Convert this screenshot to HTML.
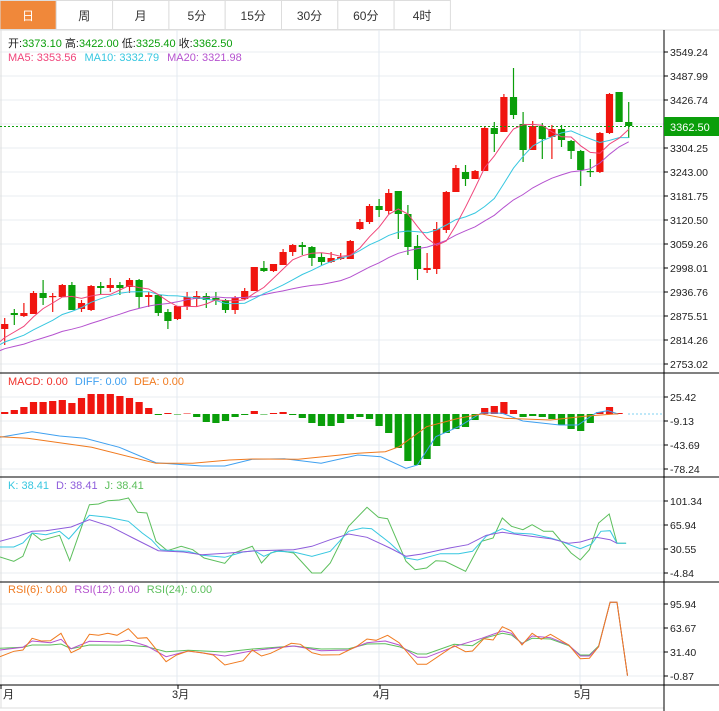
<!DOCTYPE html>
<html><head><meta charset="utf-8"><style>
body{margin:0;background:#fff;font-family:"Liberation Sans","Noto Sans CJK SC",sans-serif;}
#w{position:relative;width:719px;height:711px;overflow:hidden;}
</style></head><body><div id="w"><svg id="s" width="719" height="711" xmlns="http://www.w3.org/2000/svg" font-family="Liberation Sans, Noto Sans CJK SC, sans-serif"></svg></div>
<script>
const S=document.getElementById('s');let h='';
// tabs
const tabs=['日','周','月','5分','15分','30分','60分','4时'];
h+='<rect x="0" y="0" width="719" height="30" fill="#fff"/>';
tabs.forEach((t,i)=>{const x=i*56.3;h+=`<rect x="${x}" y="0.5" width="56.3" height="29" fill="${i==0?'#F0883A':'#fff'}" stroke="#ddd"/>`;h+=`<text x="${x+28}" y="20" font-size="12" text-anchor="middle" fill="${i==0?'#fff':'#333'}">${t}</text>`;});
h+='<line x1="0" y1="30" x2="719" y2="30" stroke="#ddd"/>';
// grids
const gy=[52,76,100,124,148,172,196,220,244,268,292,316,340,364,397,421,445,469,501,525,549,573,604,628,652,676];
gy.forEach(y=>h+=`<line x1="0" y1="${y}" x2="664" y2="${y}" stroke="#e8edf2"/>`);
[177,379,580].forEach(x=>h+=`<line x1="${x}" y1="30" x2="${x}" y2="685" stroke="#e3eaf0"/>`);
h+='<line x1="1" y1="30" x2="1" y2="708" stroke="#ddd"/><line x1="0" y1="708" x2="664" y2="708" stroke="#ddd"/>';
[373,477,582,685].forEach(y=>h+=`<line x1="0" y1="${y}" x2="719" y2="${y}" stroke="#000"/>`);
h+='<line x1="664" y1="30" x2="664" y2="711" stroke="#000"/>';
const lab=[[52,'3549.24'],[76,'3487.99'],[100,'3426.74'],[148,'3304.25'],[172,'3243.00'],[196,'3181.75'],[220,'3120.50'],[244,'3059.26'],[268,'2998.01'],[292,'2936.76'],[316,'2875.51'],[340,'2814.26'],[364,'2753.02'],[397,'25.42'],[421,'-9.13'],[445,'-43.69'],[469,'-78.24'],[501,'101.34'],[525,'65.94'],[549,'30.55'],[573,'-4.84'],[604,'95.94'],[628,'63.67'],[652,'31.40'],[676,'-0.87']];
lab.forEach(([y,t])=>{h+=`<line x1="664" y1="${y}" x2="668" y2="${y}" stroke="#000"/><text x="670" y="${y+4}" font-size="10.5" fill="#222">${t}</text>`;});
// candles [top body? we use open,close,high,low in y]
const C=[[329,324,318,345],[313,315,309,325],[316,313,303,317],[314,293,291,314],[293,298,280,305],[297,296,293,312],[297,285,284,297],[285,310,282,310],[309,303,300,312],[310,286,285,311],[286,288,282,294],[288,285,278,292],[285,288,282,295],[287,280,278,293],[280,297,279,308],[297,295,292,307],[295,313,295,316],[312,321,309,329],[319,306,306,320],[306,297,292,310],[299,296,291,307],[296,300,293,308],[298,300,292,305],[300,310,299,313],[310,298,296,314],[299,291,288,300],[291,267,267,291],[268,271,261,272],[271,264,264,272],[265,252,249,265],[252,245,244,256],[245,247,242,255],[247,258,246,266],[257,262,253,265],[262,258,252,263],[259,257,253,260],[259,241,240,259],[229,222,219,230],[222,206,204,224],[206,210,199,217],[211,193,189,214],[191,214,191,239],[214,247,205,255],[246,269,235,280],[270,268,253,273],[269,229,222,274],[230,192,191,233],[192,168,165,192],[172,179,165,186],[179,171,170,179],[171,128,127,171],[128,134,122,152],[132,97,94,132],[97,115,68,119],[124,150,112,162],[150,126,121,150],[126,139,123,159],[137,129,125,159],[129,140,125,147],[141,151,140,159],[151,170,150,186],[171,172,159,177],[172,133,132,173],[133,94,93,134],[92,122,92,122],[122,126,102,138]];
const X=i=>4.7+i*9.6;
C.forEach((c,i)=>{const[o,cl,hi,lo]=c;const up=cl<=o;const col=up?'#F0150F':'#0A9E0A';const x=X(i);h+=`<line x1="${x}" y1="${hi}" x2="${x}" y2="${lo}" stroke="${col}" stroke-width="1.2"/>`;const t=Math.min(o,cl),b=Math.max(o,cl);h+=`<rect x="${x-3.6}" y="${t}" width="7.2" height="${Math.max(b-t,1.2)}" fill="${col}"/>`;});
// MAs
const cls=C.map(c=>c[1]);const pre=[];for(let k=0;k<20;k++)pre.push(362-k*1.2);const all=pre.concat(cls);
function ma(n,col){let p=[];for(let i=0;i<C.length;i++){let s=0;for(let k=0;k<n;k++)s+=all[20+i-k];p.push(X(i).toFixed(1)+','+(s/n).toFixed(1));}h+=`<polyline points="0,${i0(n)} ${p.join(' ')}" fill="none" stroke="${col}" stroke-width="1"/>`;}
function i0(n){let s=0;for(let k=0;k<n;k++)s+=all[19-k];return (s/n).toFixed(1);}
ma(20,'#B552CF');ma(10,'#37C7E0');ma(5,'#F0447A');
h+='<line x1="0" y1="126.5" x2="664" y2="126.5" stroke="#0A9E0A" stroke-dasharray="2,2"/>';
h+='<rect x="664" y="117" width="55" height="19" fill="#0A9E0A"/><text x="670" y="131" font-size="11" fill="#fff">3362.50</text>';
h+='<text x="8" y="47" font-size="11"><tspan fill="#222">开:</tspan><tspan fill="#0A9E0A">3373.10 </tspan><tspan fill="#222"> 高:</tspan><tspan fill="#0A9E0A">3422.00 </tspan><tspan fill="#222"> 低:</tspan><tspan fill="#0A9E0A">3325.40 </tspan><tspan fill="#222"> 收:</tspan><tspan fill="#0A9E0A">3362.50</tspan></text>';
h+='<text x="8" y="61" font-size="11"><tspan fill="#F0447A">MA5: 3353.56</tspan><tspan fill="#37C7E0" dx="8">MA10: 3332.79</tspan><tspan fill="#B552CF" dx="8">MA20: 3321.98</tspan></text>';
// MACD bars
const M=[412,410,407,402,402,401,400,403,398,394,394,394,396,398,402,408,415,413,414.5,413.5,417,422,423,421,417,415,411,414.5,413,412,415,418,423,426,426,423,419,417,419,426,433,448,461,465,459,446,433,429,427,420,408,406,402,410,417,416,417,419,425,429,431,423,412,407,413,414];
M.forEach((v,i)=>{const x=X(i);if(v<414){h+=`<rect x="${x-3.6}" y="${v}" width="7.2" height="${414-v}" fill="#F0150F"/>`}else{h+=`<rect x="${x-3.6}" y="414" width="7.2" height="${v-414}" fill="#0A9E0A"/>`}});
h+='<line x1="628" y1="414" x2="664" y2="414" stroke="#7fd0f0" stroke-dasharray="2,2"/>';
function pl(arr,y0,col){const p=[];for(let i=0;i<arr.length;i+=2)p.push((arr[i]/2.18).toFixed(1)+','+(y0+arr[i+1]/3).toFixed(1));h+=`<polyline points="${p.join(' ')}" fill="none" stroke="${col}" stroke-width="1"/>`;}
pl([0,232,70,215,130,228,185,235,260,262,340,308,440,318,490,318,550,298,620,296,700,310,780,285,830,290,885,325,910,315,950,230,1000,200,1050,158,1095,160,1140,183,1220,195,1260,195,1300,158,1325,152,1348,162],360,'#3FA0F0');
pl([0,230,60,235,200,262,340,310,420,310,500,300,550,297,650,298,780,280,840,275,870,260,930,200,1000,175,1050,162,1100,175,1200,180,1280,168,1340,162,1348,162],360,'#F07A1F');
h+='<text x="8" y="385" font-size="11"><tspan fill="#F0302A">MACD: 0.00</tspan><tspan fill="#3FA0F0" dx="7">DIFF: 0.00</tspan><tspan fill="#F07A1F" dx="7">DEA: 0.00</tspan></text>';
// KDJ
pl([0,237,30,250,50,235,70,165,90,187,130,172,152,248,195,80,215,78,235,68,260,66,280,60,300,103,320,105,340,190,365,218,395,205,420,215,445,240,490,256,510,225,550,205,570,255,590,225,610,218,640,225,680,285,700,285,720,255,760,145,800,88,825,118,845,122,885,250,905,275,930,270,950,248,970,250,1015,280,1050,190,1075,180,1095,120,1115,145,1140,155,1160,140,1185,160,1205,160,1245,225,1265,246,1285,215,1305,135,1328,108,1345,196,1365,196],478,'#5CBF5C');
pl([0,207,30,207,50,195,70,165,100,170,130,160,150,183,195,112,235,118,280,130,310,165,330,185,350,215,380,218,410,220,440,232,490,238,530,222,555,218,575,235,600,220,640,222,680,235,720,220,760,160,790,150,810,152,850,195,885,240,910,246,960,227,1000,227,1030,220,1060,175,1095,152,1120,165,1160,168,1200,180,1220,188,1245,202,1265,212,1290,198,1310,160,1330,158,1345,196,1365,196],478,'#37C7E0');
pl([0,190,40,175,70,160,100,158,155,147,195,125,240,145,290,180,345,218,400,222,440,230,500,225,560,218,640,215,680,205,720,185,760,168,800,178,850,210,885,235,920,228,980,210,1020,200,1060,172,1095,163,1140,172,1200,182,1240,196,1265,192,1300,178,1330,185,1345,196],478,'#8E5CDB');
h+='<text x="8" y="489" font-size="11"><tspan fill="#37C7E0">K: 38.41</tspan><tspan fill="#8E5CDB" dx="7">D: 38.41</tspan><tspan fill="#5CBF5C" dx="7">J: 38.41</tspan></text>';
// RSI
pl([0,235,50,232,70,225,110,225,133,222,155,236,195,225,280,226,320,230,362,245,410,241,490,246,550,237,640,228,700,237,760,236,800,222,840,221,870,230,910,252,930,252,990,223,1030,227,1055,205,1095,190,1115,195,1138,220,1160,205,1200,207,1240,227,1265,255,1285,255,1305,228,1330,97,1345,97,1368,317],570,'#5CBF5C');
pl([0,240,50,232,70,213,110,218,133,208,155,236,195,214,260,216,280,211,320,228,362,260,410,243,490,258,550,242,640,228,700,242,760,240,800,218,840,213,870,225,910,262,930,262,990,230,1050,205,1095,183,1115,190,1138,222,1160,198,1200,203,1240,225,1265,258,1285,258,1305,230,1330,97,1345,97,1368,317],570,'#B552CF');
pl([0,260,30,244,50,240,70,205,90,213,110,212,133,190,155,248,175,235,195,193,215,196,235,190,255,196,280,176,300,205,320,203,362,275,385,255,410,243,440,248,465,255,490,285,530,272,550,240,570,258,590,250,635,220,655,223,680,248,700,255,740,254,780,227,800,207,820,211,845,196,870,218,910,283,930,283,990,227,1015,245,1030,243,1055,206,1075,210,1095,170,1115,183,1138,225,1160,190,1180,208,1200,193,1240,225,1265,266,1285,265,1305,230,1330,97,1345,97,1368,317],570,'#F07A1F');
h+='<text x="8" y="593" font-size="11"><tspan fill="#F07A1F">RSI(6): 0.00</tspan><tspan fill="#B552CF" dx="7">RSI(12): 0.00</tspan><tspan fill="#5CBF5C" dx="7">RSI(24): 0.00</tspan></text>';
// x labels
[[3,'月'],[172,'3月'],[373,'4月'],[574,'5月']].forEach(([x,t])=>h+=`<text x="${x}" y="698" font-size="11" fill="#222">${t}</text>`);
[0,177,379,580].forEach(x=>h+=`<line x1="${x+1}" y1="685" x2="${x+1}" y2="689" stroke="#000"/>`);
S.innerHTML=h;
</script></body></html>
